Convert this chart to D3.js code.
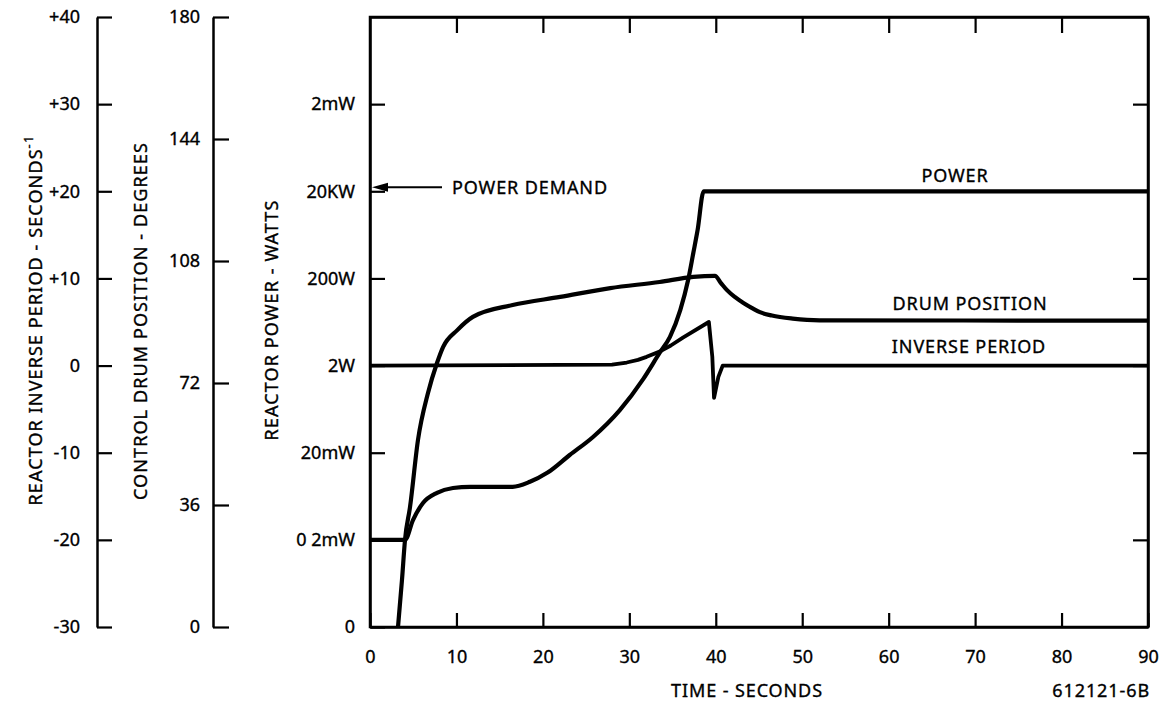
<!DOCTYPE html>
<html>
<head>
<meta charset="utf-8">
<script src="https://cdn.jsdelivr.net/npm/d3@7"></script>
<style>
  body { margin: 0; background: #fff; }
  text { font-family: "Noto Sans", sans-serif; fill: #000; stroke: #000; stroke-width: 0.35px; }
</style>
</head>
<body>
<div id="chart"></div>
<script>

// time axis (seconds)
var timeTicks = [0, 10, 20, 30, 40, 50, 60, 70, 80, 90];

// left scales
var inverseTicks = [-30, -20, -10, 0, 10, 20, 30, 40];
var inverseLabels = ["-30", "-20", "-10", "0", "+10", "+20", "+30", "+40"];
var drumTicks = [0, 36, 72, 108, 144, 180];
var powerTicks = [2e-6, 2e-4, 2e-2, 2, 200, 2e4, 2e6];
var powerLabels = ["0", "0 2mW", "20mW", "2W", "200W", "20KW", "2mW"];

// POWER (watts, log axis)
var powerTime  = [0, 4.05, 4.97, 6.13, 7.75, 9.6, 11.6, 16.5, 18.5, 20.5, 23.1, 25.8, 28.9, 31.6, 33.5, 34.7, 35.9, 36.8, 37.4, 37.9, 38.6, 90];
var powerWatts = [2e-4, 2e-4, 5.7e-4, 1.4e-3, 2.4e-3, 3.1e-3, 3.3e-3, 3.3e-3, 4.3e-3, 6.9e-3, 0.0177, 0.046, 0.19, 0.98, 3.9, 9.1, 38, 184, 767, 2590, 2e4, 2e4];

// DRUM POSITION (degrees)
var drumTime = [3.24, 3.7, 4.05, 4.63, 5.55, 6.7, 7.75, 8.45, 10.1, 11.9, 16.5, 22.0, 27.8, 33.5, 37.4, 39.9, 40.6, 41.3, 42.2, 43.2, 44.2, 45.1, 46.5, 48.9, 52.0, 90];
var drumDeg  = [0, 13.9, 25.7, 35.4, 55.2, 69.0, 77.9, 82.6, 87.6, 91.5, 95.0, 97.4, 100.0, 101.8, 103.3, 103.6, 101.5, 99.4, 97.4, 95.6, 94.1, 92.9, 91.9, 91.0, 90.5, 90.4];

// INVERSE PERIOD (1/s)
var invTime  = [0, 28.0, 29.7, 31.0, 32.0, 33.5, 34.8, 36.2, 39.2, 39.6, 39.8, 40.3, 40.8, 90];
var invValue = [0, 0.1, 0.35, 0.65, 1.0, 1.6, 2.3, 3.2, 5.0, 1.0, -3.7, -1.3, 0, 0];

var width = 1176, height = 704;
var plot = { left: 370, right: 1148, top: 17, bottom: 627 };

var svg = d3.select("#chart").append("svg")
  .attr("width", width)
  .attr("height", height);

var x = d3.scaleLinear().domain([0, 90]).range([plot.left, plot.right]);
var yInv = d3.scaleLinear().domain([-30, 40]).range([plot.bottom, plot.top]);
var yDrum = d3.scaleLinear().domain([0, 180]).range([plot.bottom, plot.top]);
var yPow = d3.scaleLog().domain([2e-6, 2e8]).range([plot.bottom, plot.top]);

var labelFont = 18;

function styleAxis(g) {
  g.selectAll("path.domain").attr("stroke", "#000").attr("stroke-width", 2.5);
  g.selectAll(".tick line").attr("stroke", "#000").attr("stroke-width", 2.2);
  g.selectAll(".tick text")
    .attr("font-size", labelFont)
    .attr("font-family", "Noto Sans, sans-serif");
}

// inverse period axis
svg.append("g")
  .attr("transform", "translate(97,0)")
  .call(d3.axisLeft(yInv)
    .tickValues(inverseTicks)
    .tickFormat(function (d, i) { return inverseLabels[i]; })
    .tickSizeInner(-15).tickSizeOuter(0).tickPadding(17))
  .call(styleAxis);

// drum position axis
svg.append("g")
  .attr("transform", "translate(213,0)")
  .call(d3.axisLeft(yDrum)
    .tickValues(drumTicks)
    .tickSizeInner(-16).tickSizeOuter(0).tickPadding(13))
  .call(styleAxis);

// main frame
svg.append("rect")
  .attr("x", plot.left).attr("y", plot.top)
  .attr("width", plot.right - plot.left).attr("height", plot.bottom - plot.top)
  .attr("fill", "none").attr("stroke", "#000").attr("stroke-width", 2.5);

// power axis (left of frame)
svg.append("g")
  .attr("transform", "translate(" + plot.left + ",0)")
  .call(d3.axisLeft(yPow)
    .tickValues(powerTicks)
    .tickFormat(function (d, i) { return powerLabels[i]; })
    .tickSizeInner(-15).tickSizeOuter(0).tickPadding(15))
  .call(styleAxis);

// right side ticks
svg.append("g")
  .attr("transform", "translate(" + plot.right + ",0)")
  .call(d3.axisRight(yPow)
    .tickValues(powerTicks.slice(1))
    .tickFormat("")
    .tickSizeInner(-15).tickSizeOuter(0))
  .call(styleAxis);

// time axis
svg.append("g")
  .attr("transform", "translate(0," + plot.bottom + ")")
  .call(d3.axisBottom(x)
    .tickValues(timeTicks)
    .tickFormat(d3.format("d"))
    .tickSizeInner(-14).tickSizeOuter(0).tickPadding(23))
  .call(styleAxis);

// top ticks
svg.append("g")
  .attr("transform", "translate(0," + plot.top + ")")
  .call(d3.axisTop(x)
    .tickValues(timeTicks.slice(1, -1))
    .tickFormat("")
    .tickSizeInner(-16).tickSizeOuter(0))
  .call(styleAxis);

// curves
var powerLine = d3.line()
  .x(function (d) { return x(d[0]); })
  .y(function (d) { return yPow(d[1]); })
  .curve(d3.curveMonotoneX);

var drumLine = d3.line()
  .x(function (d) { return x(d[0]); })
  .y(function (d) { return yDrum(d[1]); })
  .curve(d3.curveMonotoneX);

var invLine = d3.line()
  .x(function (d) { return x(d[0]); })
  .y(function (d) { return yInv(d[1]); });

svg.append("path")
  .datum(d3.zip(powerTime, powerWatts))
  .attr("d", powerLine)
  .attr("fill", "none").attr("stroke", "#000").attr("stroke-width", 4.2)
  .attr("stroke-linejoin", "round");

svg.append("path")
  .datum(d3.zip(drumTime, drumDeg))
  .attr("d", drumLine)
  .attr("fill", "none").attr("stroke", "#000").attr("stroke-width", 4.2)
  .attr("stroke-linejoin", "round");

svg.append("path")
  .datum(d3.zip(invTime, invValue))
  .attr("d", invLine)
  .attr("fill", "none").attr("stroke", "#000").attr("stroke-width", 3.8)
  .attr("stroke-linejoin", "round");

// power demand arrow
var demandY = yPow(2e4) - 4;
svg.append("line")
  .attr("x1", plot.left + 14).attr("x2", 442)
  .attr("y1", demandY).attr("y2", demandY)
  .attr("stroke", "#000").attr("stroke-width", 2);
svg.append("path")
  .attr("d", "M" + (plot.left + 2) + "," + demandY + "l16,-4.5l0,9z")
  .attr("fill", "#000");

function label(txt, xx, yy, anchor) {
  return svg.append("text")
    .attr("x", xx).attr("y", yy)
    .attr("text-anchor", anchor || "middle")
    .attr("font-size", labelFont)
    .attr("letter-spacing", 0.9)
    .text(txt);
}

label("POWER DEMAND", 452, 194, "start");
label("POWER", 955, 182);
label("DRUM POSITION", 970, 310);
label("INVERSE PERIOD", 969, 353);
label("TIME - SECONDS", 747, 697);
label("612121-6B", 1150, 697, "end");

// rotated axis titles
function vlabel(xx, yy) {
  return svg.append("text")
    .attr("transform", "translate(" + xx + "," + yy + ") rotate(-90)")
    .attr("text-anchor", "middle")
    .attr("font-size", labelFont)
    .attr("letter-spacing", 1.1);
}

var t1 = vlabel(42, 320);
t1.append("tspan").text("REACTOR INVERSE PERIOD - SECONDS");
t1.append("tspan").attr("dy", -9).attr("font-size", 13).text("-1");

vlabel(147, 321).text("CONTROL DRUM POSITION - DEGREES");
vlabel(278, 320).text("REACTOR POWER - WATTS");

</script>
</body>
</html>
